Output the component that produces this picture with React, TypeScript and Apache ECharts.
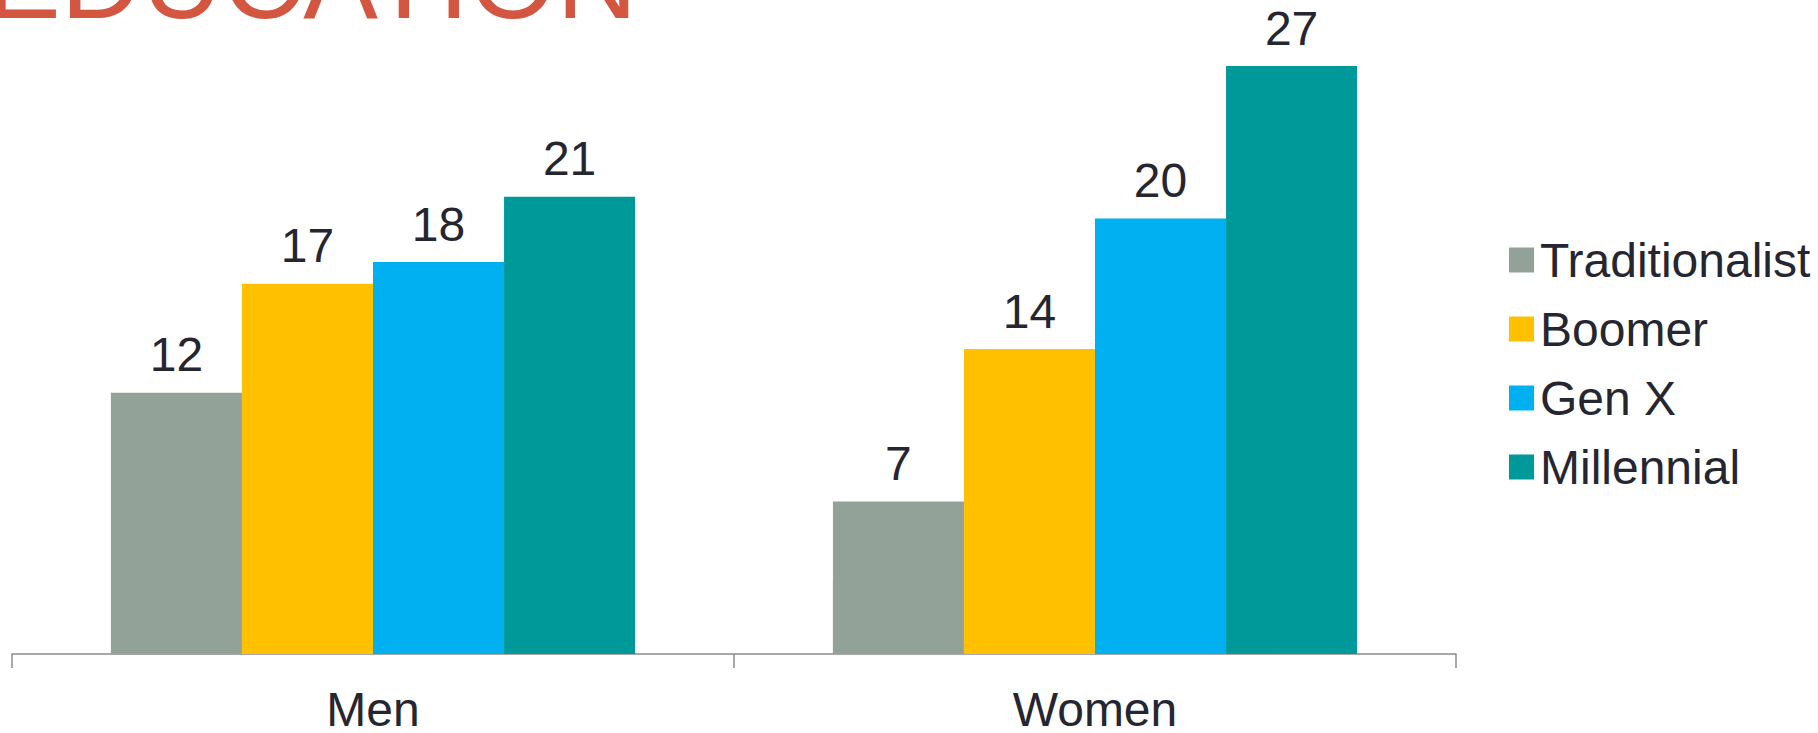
import React, { useEffect, useRef } from "react";
import * as echarts from "echarts";

const categories = ["Men", "Women"];
const seriesNames = ["Traditionalist", "Boomer", "Gen X", "Millennial"];
const traditionalist = [12, 7];
const boomer = [17, 14];
const genX = [18, 20];
const millennial = [21, 27];
const colors = ["#93A299", "#FFC000", "#00B0F0", "#009999"];
const titleText = "EDUCATION";

const FONT = "'Liberation Sans', Arial, sans-serif";
const TEXT = "#262631";

export default function App() {
  const ref = useRef<HTMLDivElement>(null);
  useEffect(() => {
    if (!ref.current) return;
    const chart = echarts.init(ref.current, undefined, { renderer: "svg" });
    const values = [traditionalist, boomer, genX, millennial];
    chart.setOption({
      animation: false,
      textStyle: { fontFamily: FONT },
      graphic: [
        {
          type: "text",
          x: -14,
          y: -21,
          style: {
            text: titleText,
            font: `112px ${FONT}`,
            fill: "#D35640",
            textAlign: "left",
            verticalAlign: "middle",
          },
        },
      ],
      legend: {
        orient: "vertical",
        left: 1504,
        top: 231,
        itemWidth: 25,
        itemHeight: 25,
        itemGap: 21,
        icon: "rect",
        data: seriesNames,
        textStyle: { fontSize: 48, color: TEXT, fontFamily: FONT, padding: [0, 0, 0, 1] },
      },
      grid: { left: 12, right: 362, top: 66, bottom: 78 },
      xAxis: {
        type: "category",
        data: categories,
        axisLine: { lineStyle: { color: "#8C8C8C", width: 1.5 } },
        axisTick: { show: true, length: 14, lineStyle: { color: "#8C8C8C", width: 1.5 } },
        axisLabel: { fontSize: 48, color: TEXT, margin: 31, fontFamily: FONT },
      },
      yAxis: {
        type: "value",
        min: 0,
        max: 27,
        show: false,
        splitLine: { show: false },
      },
      series: seriesNames.map((name, i) => ({
        name,
        type: "bar",
        data: values[i],
        barGap: "0%",
        barCategoryGap: "27.4%",
        itemStyle: { color: colors[i] },
        label: {
          show: true,
          position: "top",
          distance: 14,
          fontSize: 48,
          color: TEXT,
          fontFamily: FONT,
        },
      })),
    });
    return () => chart.dispose();
  }, []);
  return (
    <div
      ref={ref}
      style={{ position: "fixed", left: 0, top: 0, width: 1818, height: 733, background: "#fff" }}
    />
  );
}
